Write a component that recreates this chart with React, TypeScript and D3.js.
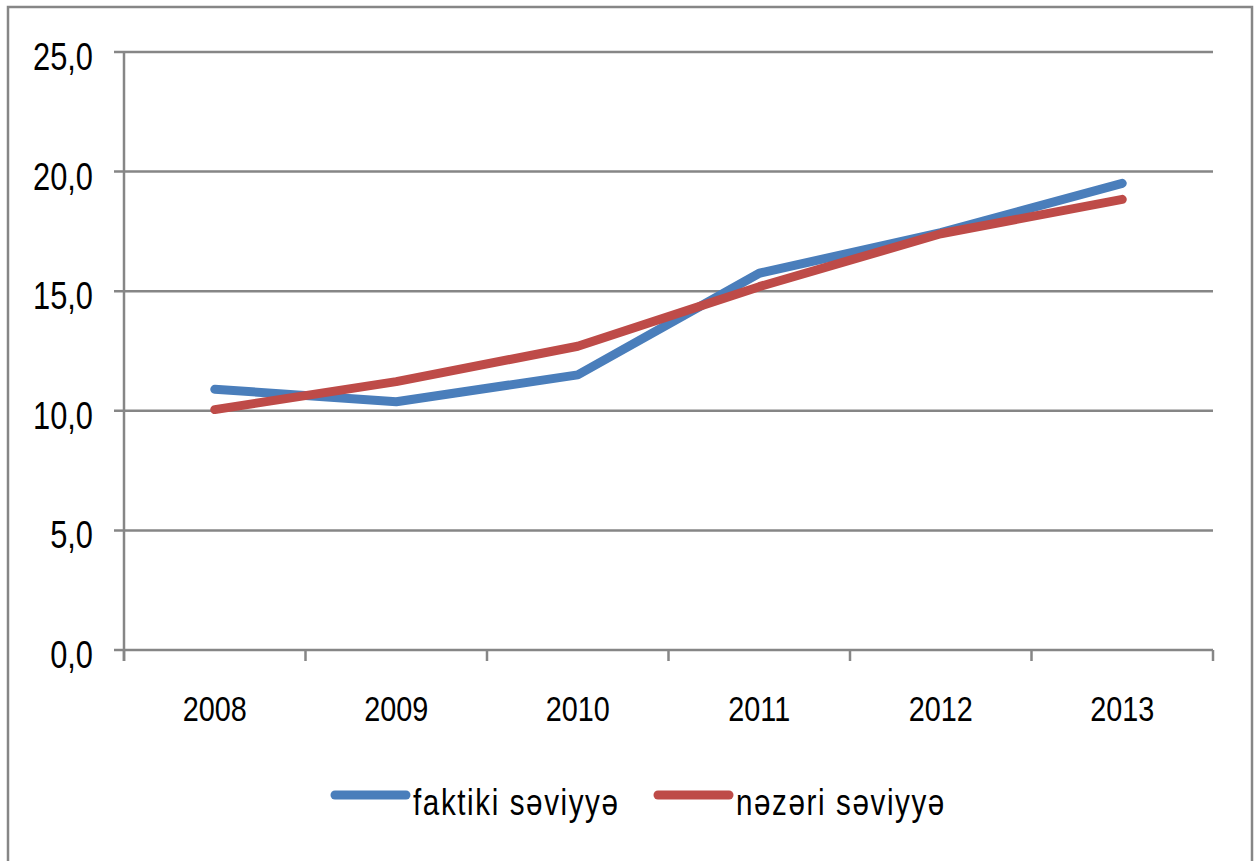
import React from "react";
import * as d3 from "d3";

const years = ["2008", "2009", "2010", "2011", "2012", "2013"];
const faktiki = [10.9, 10.38, 11.5, 15.75, 17.45, 19.51];
const nezeri = [10.05, 11.22, 12.7, 15.19, 17.4, 18.84];
const yTicks = [0, 5, 10, 15, 20, 25];
const seriesNames = ["faktiki səviyyə", "nəzəri səviyyə"];
const seriesColors = ["#4a7ebb", "#be4b48"];

const W = 1258;
const H = 861;
const margin = { top: 52, right: 45, bottom: 211, left: 124 };
const FONT = "'Liberation Sans', Arial, sans-serif";
const GRID = "#868686";

const App = () => {
  const x = d3
    .scaleBand<string>()
    .domain(years)
    .range([margin.left, W - margin.right]);

  const y = d3
    .scaleLinear()
    .domain([0, 25])
    .range([H - margin.bottom, margin.top]);

  const line = d3
    .line<number>()
    .x((_, i) => x(years[i])! + x.bandwidth() / 2)
    .y((d) => y(d));

  const x0 = margin.left;
  const x1 = W - margin.right;
  const yBase = y(0);

  // tick positions on the category axis (band edges)
  const xEdges = [...years.map((c) => x(c)!), x1];

  // legend
  const legend = [
    { name: seriesNames[0], color: seriesColors[0], lx: 335 },
    { name: seriesNames[1], color: seriesColors[1], lx: 658 },
  ];
  const legendY = 795;

  return (
    <svg
      width={W}
      height={H}
      style={{ position: "absolute", left: 0, top: 0, background: "#fff" }}
    >
      {/* frame */}
      <rect
        x={8}
        y={7}
        width={1244}
        height={870}
        fill="#fff"
        stroke={GRID}
        strokeWidth={2.5}
      />

      {/* horizontal grid + y ticks */}
      {yTicks.map((t) => (
        <g key={t}>
          <line
            x1={x0 - 10}
            x2={x1}
            y1={y(t)}
            y2={y(t)}
            stroke={GRID}
            strokeWidth={2.5}
          />
          <text
            transform={`translate(93,${y(t) + 18}) scale(0.79,1)`}
            textAnchor="end"
            fontFamily={FONT}
            fontSize={39}
            fill="#000"
          >
            {d3.format(".1f")(t).replace(".", ",")}
          </text>
        </g>
      ))}

      {/* y axis */}
      <line x1={x0} x2={x0} y1={margin.top} y2={yBase + 11} stroke={GRID} strokeWidth={2.5} />

      {/* x ticks */}
      {xEdges.map((ex, i) => (
        <line
          key={i}
          x1={ex}
          x2={ex}
          y1={yBase}
          y2={yBase + 11}
          stroke={GRID}
          strokeWidth={2.5}
        />
      ))}

      {/* x labels */}
      {years.map((c) => (
        <text
          key={c}
          transform={`translate(${x(c)! + x.bandwidth() / 2},${yBase + 71}) scale(0.8,1)`}
          textAnchor="middle"
          fontFamily={FONT}
          fontSize={36}
          fill="#000"
        >
          {c}
        </text>
      ))}

      {/* series */}
      {[faktiki, nezeri].map((s, i) => (
        <path
          key={i}
          d={line(s) ?? ""}
          fill="none"
          stroke={seriesColors[i]}
          strokeWidth={9}
          strokeLinecap="round"
          strokeLinejoin="round"
        />
      ))}

      {/* legend */}
      {legend.map((l) => (
        <g key={l.name}>
          <line
            x1={l.lx}
            x2={l.lx + 71}
            y1={legendY}
            y2={legendY}
            stroke={l.color}
            strokeWidth={9}
            strokeLinecap="round"
          />
          <text
            transform={`translate(${l.lx + 78},${legendY + 20}) scale(0.8,1)`}
            fontFamily={FONT}
            fontSize={37}
            letterSpacing={2}
            fill="#000"
          >
            {l.name}
          </text>
        </g>
      ))}
    </svg>
  );
};

export default App;
